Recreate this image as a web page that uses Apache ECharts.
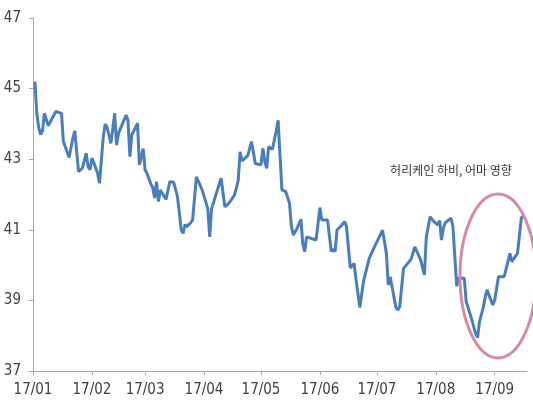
<!DOCTYPE html>
<html>
<head>
<meta charset="utf-8">
<script src="https://cdn.jsdelivr.net/npm/echarts@6/dist/echarts.min.js"></script>
<style>
  html, body { margin: 0; padding: 0; background: #fff; }
  #main { width: 533px; height: 401px; }
</style>
</head>
<body>
<div id="main"></div>
<script>
// daily readings, 2017
var dates = [
  '01-02','01-03','01-04','01-05','01-06','01-07','01-09','01-10','01-13','01-16',
  '01-17','01-18','01-19','01-20','01-22','01-23','01-24','01-25','01-27','01-29',
  '01-30','01-31','02-01','02-02','02-04','02-05','02-07','02-08','02-09','02-11',
  '02-13','02-14','02-15','02-19','02-20','02-21','02-22','02-24','02-25','02-26',
  '02-27','02-28','03-01','03-02','03-04','03-05','03-06','03-07','03-08','03-09',
  '03-11','03-12','03-14','03-15','03-16','03-18','03-19','03-20','03-21','03-22',
  '03-23','03-25','03-26','03-28','03-29','03-31','04-03','04-04','04-05','04-06',
  '04-10','04-12','04-14','04-15','04-17','04-18','04-19','04-20','04-21','04-22',
  '04-24','04-25','04-26','04-27','04-28','05-01','05-02','05-03','05-04','05-05',
  '05-07','05-08','05-09','05-10','05-12','05-14','05-15','05-16','05-17','05-18',
  '05-19','05-20','05-22','05-23','05-24','05-25','05-30','05-31','06-01','06-02',
  '06-05','06-06','06-07','06-08','06-09','06-10','06-12','06-13','06-14','06-15',
  '06-17','06-19','06-20','06-22','06-24','06-27','06-28','06-30','07-01','07-04',
  '07-06','07-07','07-08','07-11','07-12','07-13','07-15','07-16','07-19','07-20',
  '07-21','07-22','07-24','07-26','07-27','07-28','07-29','07-31','08-02','08-03',
  '08-04','08-05','08-06','08-09','08-10','08-12','08-13','08-16','08-17','08-18',
  '08-20','08-22','08-23','08-24','08-26','08-27','08-28','08-29','08-31','09-01',
  '09-03','09-06','09-07','09-09','09-10','09-13','09-15','09-16'
];
var values = [
  45.2,44.3,43.9,43.7,43.8,44.3,43.95,43.92,44.35,44.3,
  43.5,43.35,43.2,43.05,43.6,43.8,43.2,42.65,42.75,43.17,
  42.79,42.7,43.03,42.9,42.6,42.32,43.64,44.0,43.9,43.45,
  44.3,43.4,43.73,44.25,44.1,43.07,43.69,43.9,44.02,42.84,
  42.85,43.3,42.69,42.6,42.3,42.2,41.9,42.36,41.8,42.13,
  41.95,41.86,42.36,42.4,42.35,41.95,41.5,41.0,40.9,41.15,
  41.09,41.2,41.28,42.5,42.55,42.13,41.6,40.8,41.6,41.56,
  42.46,41.65,41.75,41.82,41.98,42.17,42.4,43.21,42.95,43.0,
  43.1,43.15,43.5,43.45,42.88,42.84,43.31,42.93,42.74,43.35,
  43.28,43.24,43.8,44.1,42.13,42.08,42.05,41.75,41.1,40.85,
  40.9,41.04,41.3,40.6,40.38,40.8,40.71,40.75,41.63,41.28,
  41.28,41.3,40.38,40.45,40.38,41.0,41.1,41.15,41.23,41.1,
  39.92,40.05,39.6,38.8,39.55,40.2,40.22,40.55,40.66,40.99,
  40.33,39.44,39.67,38.8,38.73,38.82,39.9,39.85,40.17,40.12,
  40.52,40.57,40.15,39.72,40.8,40.82,41.37,41.23,41.14,41.26,
  40.71,41.05,41.2,41.33,41.1,39.4,39.63,39.63,38.96,38.8,
  38.44,38.05,37.95,38.4,38.8,39.1,39.3,39.15,38.87,39.01,
  39.67,39.67,39.67,40.33,40.1,40.33,41.33,41.4
];
var monthTicks = ['01','02','03','04','05','06','07','08','09'];
var yTicks = [37, 39, 41, 43, 45, 47];
var note = '허리케인 하비, 어마 영향';

function toTime(md) {
  var p = md.split('-');
  return Date.UTC(2017, +p[0] - 1, +p[1]);
}
var seriesData = dates.map(function (d, i) {
  return [toTime(d), values[i]];
});
var tickValues = monthTicks.map(function (m) {
  return toTime(m + '-01');
});

var axisFont = "'Liberation Sans Narrow','DejaVu Sans Condensed',sans-serif";

var myChart = echarts.init(document.getElementById('main'));
var option = {
  animation: false,
  backgroundColor: '#fff',
  grid: { left: 33, right: 6, top: 18, bottom: 30 },
  xAxis: {
    type: 'value',
    min: toTime('01-01'),
    max: toTime('09-18'),
    axisLine: { show: true, onZero: false, lineStyle: { color: '#a6a6a6', width: 1 } },
    axisTick: { show: true, length: 4, customValues: tickValues, lineStyle: { color: '#a6a6a6' } },
    splitLine: { show: false },
    axisLabel: {
      customValues: tickValues,
      color: '#404040',
      fontFamily: axisFont,
      fontSize: 15,
      margin: 12,
      formatter: function (v) {
        var mm = new Date(v).getUTCMonth() + 1;
        return '17/' + (mm < 10 ? '0' + mm : mm);
      }
    }
  },
  yAxis: {
    type: 'value',
    min: yTicks[0],
    max: yTicks[yTicks.length - 1],
    interval: 2,
    axisLine: { show: true, lineStyle: { color: '#a6a6a6', width: 1 } },
    axisTick: { show: true, length: 4, lineStyle: { color: '#a6a6a6' } },
    splitLine: { show: false },
    axisLabel: {
      color: '#404040',
      fontFamily: axisFont,
      fontSize: 15,
      margin: 12
    }
  },
  series: [{
    type: 'line',
    data: seriesData,
    showSymbol: false,
    lineStyle: { color: '#4a7ebb', width: 3 },
    itemStyle: { color: '#4a7ebb' }
  }],
  graphic: [{
    type: 'ellipse',
    shape: { cx: 498, cy: 276, rx: 38, ry: 82 },
    style: { fill: 'none', stroke: '#d38ca2', lineWidth: 3 },
    z: 10
  }, {
    type: 'text',
    x: 451,
    y: 170,
    style: {
      text: note,
      fill: '#333',
      font: "12px 'Noto Sans CJK KR'",
      textAlign: 'center',
      textVerticalAlign: 'middle'
    },
    z: 10
  }]
};
myChart.setOption(option);
</script>
</body>
</html>
